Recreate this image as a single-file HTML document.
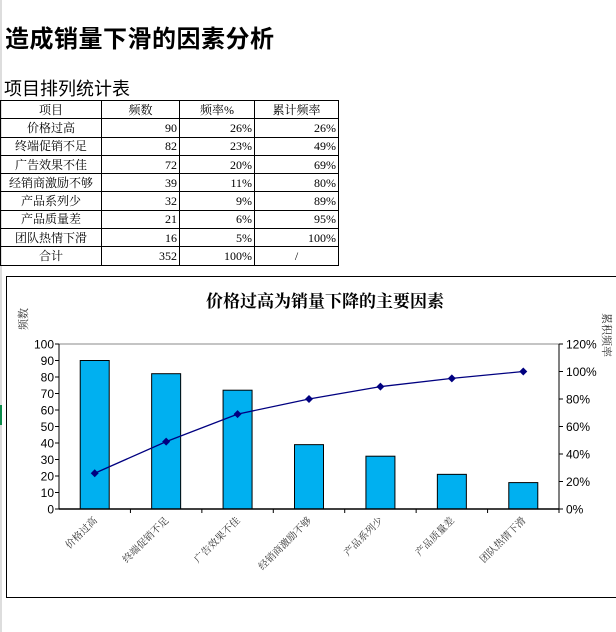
<!DOCTYPE html>
<html><head><meta charset="utf-8"><style>
body{margin:0;width:616px;height:632px;background:#fff;position:relative;overflow:hidden;font-family:"Liberation Serif","Noto Serif CJK SC",serif;}
#title{position:absolute;left:5px;top:19px;font:bold 24px "Liberation Sans","Noto Sans CJK SC",sans-serif;letter-spacing:0.5px;}
#sub{position:absolute;left:4px;top:75px;font:18px "Liberation Sans","Noto Sans CJK SC",sans-serif;}
table{position:absolute;left:0;top:100px;border-collapse:collapse;font-size:12px;}
td{border:1px solid #000;height:17.3px;padding:0 2px;line-height:16px;}
td.c{text-align:center}td.r{text-align:right}
#chart{position:absolute;left:6px;top:276px;width:620px;height:320px;border:1px solid #000;}
#edge{position:absolute;left:0;top:0;width:2px;height:632px;background:#ddd}
#green{position:absolute;left:0;top:405px;width:2px;height:20px;background:#0a8a4a}
</style></head><body>
<div id="edge"></div>
<div id="green"></div>
<div id="title">造成销量下滑的因素分析</div>
<div id="sub">项目排列统计表</div>
<table>
<colgroup><col style="width:101px"><col style="width:78px"><col style="width:75px"><col style="width:84px"></colgroup>
<tr><td class="c">项目</td><td class="c">频数</td><td class="c">频率%</td><td class="c">累计频率</td></tr>
<tr><td class="c">价格过高</td><td class="r">90</td><td class="r">26%</td><td class="r">26%</td></tr>
<tr><td class="c">终端促销不足</td><td class="r">82</td><td class="r">23%</td><td class="r">49%</td></tr>
<tr><td class="c">广告效果不佳</td><td class="r">72</td><td class="r">20%</td><td class="r">69%</td></tr>
<tr><td class="c">经销商激励不够</td><td class="r">39</td><td class="r">11%</td><td class="r">80%</td></tr>
<tr><td class="c">产品系列少</td><td class="r">32</td><td class="r">9%</td><td class="r">89%</td></tr>
<tr><td class="c">产品质量差</td><td class="r">21</td><td class="r">6%</td><td class="r">95%</td></tr>
<tr><td class="c">团队热情下滑</td><td class="r">16</td><td class="r">5%</td><td class="r">100%</td></tr>
<tr><td class="c">合计</td><td class="r">352</td><td class="r">100%</td><td class="c">/</td></tr>
</table>
<div id="chart"></div>
<svg id="svg" width="616" height="632" style="position:absolute;left:0;top:0"></svg>
<script>
const categories=["价格过高","终端促销不足","广告效果不佳","经销商激励不够","产品系列少","产品质量差","团队热情下滑"];
const counts=[90,82,72,39,32,21,16];
const cumPct=[26,49,69,80,89,95,100];
const leftTicks=[0,10,20,30,40,50,60,70,80,90,100];
const rightTicks=[0,20,40,60,80,100,120];
const NS="http://www.w3.org/2000/svg",svg=document.getElementById('svg');
const L=59,R=559,T=344,B=509;
const y1=v=>B-(v/100)*(B-T), y2=v=>B-(v/120)*(B-T);
const cw=(R-L)/categories.length, xc=i=>L+cw*(i+0.5);
function mk(t,a,txt){const e=document.createElementNS(NS,t);for(const k in a)e.setAttribute(k,a[k]);if(txt!=null)e.textContent=txt;svg.appendChild(e);return e;}
let e;
e=mk('text',{x:325,y:307,'text-anchor':'middle','font-size':17,'font-weight':'bold','font-family':'Liberation Serif,Noto Serif CJK SC,serif'},'价格过高为销量下降的主要因素');

e=mk('text',{x:0,y:0,transform:'translate(27,330) rotate(-90)','font-size':11,fill:'#333','font-family':'Noto Serif CJK SC,serif'},'频数');

e=mk('text',{x:0,y:0,transform:'translate(603,313) rotate(90)','font-size':11,fill:'#333','font-family':'Noto Serif CJK SC,serif'},'累积频率');

e=mk('rect',{x:L,y:T,width:R-L,height:B-T,fill:'none',stroke:'#888','stroke-width':1});

leftTicks.forEach(v=>{e=mk('text',{x:L-5,y:y1(v)+4.5,'text-anchor':'end','font-size':12,'font-family':'Liberation Sans,sans-serif'},v);

mk('line',{x1:L-4,x2:L,y1:y1(v),y2:y1(v),stroke:'#000'});});
rightTicks.forEach(v=>{e=mk('text',{x:R+7,y:y2(v)+4.5,'font-size':12,'font-family':'Liberation Sans,sans-serif'},v+'%');

mk('line',{x1:R,x2:R+4,y1:y2(v),y2:y2(v),stroke:'#000'});});
mk('line',{x1:L,x2:L,y1:T,y2:B,stroke:'#000'});mk('line',{x1:R,x2:R,y1:T,y2:B,stroke:'#000'});
categories.forEach((c,i)=>{
e=mk('rect',{x:xc(i)-14.5,y:y1(counts[i]),width:29,height:B-y1(counts[i]),fill:'#00B0F0',stroke:'#000','stroke-width':1});

mk('line',{x1:L+cw*(i+1),x2:L+cw*(i+1),y1:B,y2:B+4,stroke:'#000'});
e=mk('text',{x:0,y:0,transform:`translate(${xc(i)+3},${B+12}) rotate(-45)`,'text-anchor':'end','font-size':10,fill:'#333','font-family':'Noto Serif CJK SC,serif'},c);

});
mk('line',{x1:L,x2:R,y1:B,y2:B,stroke:'#000','stroke-width':1.5});
e=mk('polyline',{points:cumPct.map((v,i)=>xc(i)+','+y2(v)).join(' '),fill:'none',stroke:'#000080','stroke-width':1.3});

cumPct.forEach((v,i)=>{e=mk('path',{d:`M${xc(i)},${y2(v)-4}l4,4l-4,4l-4,-4z`,fill:'#000080'});
});
</script>
</body></html>
